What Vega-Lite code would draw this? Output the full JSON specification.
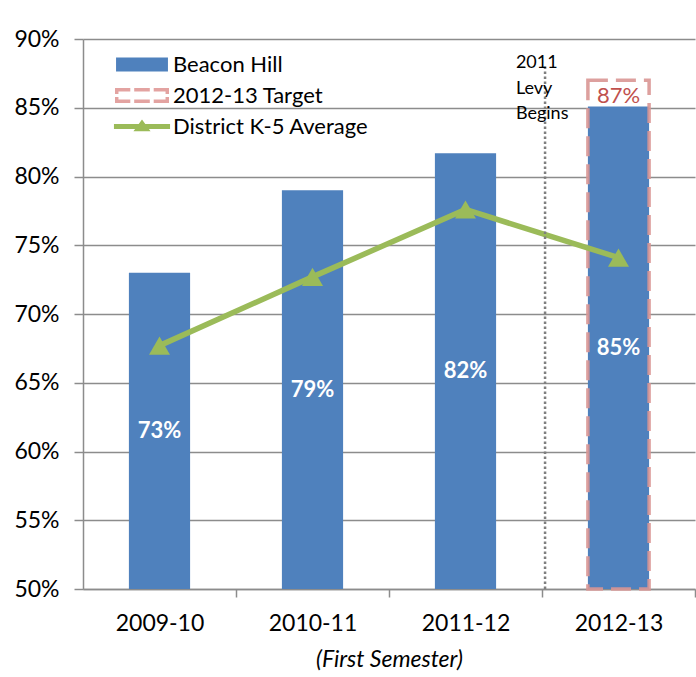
{
  "$schema": "https://vega.github.io/schema/vega-lite/v6.json",
  "width": 612,
  "height": 550,
  "autosize": "none",
  "padding": {"left": 83, "top": 39, "right": 1, "bottom": 88},
  "background": "white",
  "config": {"font": "Lato", "view": {"stroke": null}},
  "datasets": {
    "bars": [
      {"year": "2009-10", "value": 73.0, "label": "73%"},
      {"year": "2010-11", "value": 79.0, "label": "79%"},
      {"year": "2011-12", "value": 81.7, "label": "82%"},
      {"year": "2012-13", "value": 85.1, "label": "85%"}
    ],
    "avg": [
      {"year": "2009-10", "value": 67.7},
      {"year": "2010-11", "value": 72.7},
      {"year": "2011-12", "value": 77.6},
      {"year": "2012-13", "value": 74.1}
    ],
    "target": [
      {"year": "2012-13", "value": 87, "label": "87%"}
    ],
    "note": [
      {"year": "2012-13", "value": 88, "note": "2011\nLevy\nBegins"}
    ]
  },
  "encoding": {
    "x": {
      "field": "year",
      "type": "nominal",
      "sort": null,
      "scale": {"domain": ["2009-10", "2010-11", "2011-12", "2012-13"], "paddingInner": 0.6, "paddingOuter": 0.3},
      "axis": {
        "title": "(First Semester)",
        "titleFontStyle": "italic",
        "titleFontWeight": "normal",
        "titleFontSize": 23,
        "titleColor": "black",
        "titlePadding": 13,
        "labelAngle": 0,
        "labelFontSize": 23,
        "labelColor": "black",
        "labelPadding": 15,
        "ticks": true,
        "tickOffset": 76.5,
        "labelOffset": -76.5,
        "tickSize": 8,
        "tickColor": "#8c8c8c",
        "tickWidth": 1.5,
        "domainColor": "#8c8c8c",
        "domainWidth": 1.5,
        "grid": false
      }
    },
    "y": {
      "field": "value",
      "type": "quantitative",
      "scale": {"domain": [50, 90], "nice": false, "zero": false},
      "axis": {
        "title": null,
        "values": [50, 55, 60, 65, 70, 75, 80, 85, 90],
        "labelExpr": "datum.value + '%'",
        "labelFontSize": 23,
        "labelColor": "black",
        "labelPadding": 15,
        "ticks": true,
        "tickSize": 9,
        "tickColor": "#8c8c8c",
        "tickWidth": 1.5,
        "domain": true,
        "domainColor": "#8c8c8c",
        "domainWidth": 1.5,
        "grid": true,
        "gridColor": "#8c8c8c",
        "gridWidth": 1.5
      }
    }
  },
  "layer": [
    {
      "data": {"name": "bars"},
      "mark": {"type": "bar"},
      "encoding": {
        "y2": {"datum": 50},
        "color": {
          "datum": "Beacon Hill",
          "scale": {
            "domain": ["Beacon Hill", "2012-13 Target", "District K-5 Average"],
            "range": ["#4f81bd", "#e3a3a1", "#9bbb59"]
          },
          "legend": {
            "title": null,
            "orient": "none",
            "legendX": 44,
            "legendY": 10.5,
            "padding": 0,
            "symbolSize": 900,
            "symbolStrokeWidth": 0,
            "symbolOpacity": 1,
            "labelFontSize": 22,
            "labelColor": "black",
            "labelOffset": 16,
            "labelLimit": 400,
            "rowPadding": 5,
            "encode": {
              "symbols": {
                "update": {
                  "shape": {
                    "signal": "datum.value === 'Beacon Hill' ? 'M-1.73,-0.47H1.73V0.47H-1.73Z' : (datum.value === '2012-13 Target' ? 'M-1.8,-0.5H-0.78V-0.27H-1.57V-0.1H-1.8Z M-0.52,-0.5H0.52V-0.27H-0.52Z M0.78,-0.5H1.8V-0.1H1.57V-0.27H0.78Z M-1.8,0.5H-0.78V0.27H-1.57V0.1H-1.8Z M-0.52,0.5H0.52V0.27H-0.52Z M0.78,0.5H1.8V0.1H1.57V0.27H0.78Z' : 'M-1.87,-0.17H1.87V0.17H-1.87Z M-0.57,0.31L0,-0.47L0.57,0.31Z')"
                  }
                }
              }
            }
          }
        }
      }
    },
    {
      "data": {"name": "target"},
      "mark": {"type": "bar", "filled": false, "fill": null, "stroke": "#d99694", "strokeWidth": 3.5, "strokeDash": [20, 8], "strokeOpacity": 0.9},
      "encoding": {
        "y2": {"datum": 50}
      }
    },
    {
      "data": {"name": "target"},
      "mark": {"type": "text", "color": "#c0504d", "fontSize": 22, "baseline": "alphabetic", "dy": 23},
      "encoding": {
        "text": {"field": "label"}
      }
    },
    {
      "data": {"name": "avg"},
      "mark": {"type": "line", "color": "#9bbb59", "strokeWidth": 5.5, "point": {"shape": "triangle-up", "size": 440, "filled": true, "color": "#9bbb59", "opacity": 1}},
      "encoding": {}
    },
    {
      "data": {"name": "bars"},
      "transform": [{"calculate": "(datum.value + 50) / 2", "as": "mid"}],
      "mark": {"type": "text", "color": "white", "fontSize": 22, "fontWeight": "bold", "baseline": "middle"},
      "encoding": {
        "y": {"field": "mid", "type": "quantitative"},
        "text": {"field": "label"}
      }
    },
    {
      "data": {"name": "note"},
      "mark": {"type": "rule", "color": "#7f7f7f", "strokeWidth": 2.5, "strokeDash": [2.5, 2.5]},
      "encoding": {
        "x": {"field": "year", "type": "nominal", "bandPosition": -0.7},
        "y2": {"datum": 50}
      }
    },
    {
      "data": {"name": "note"},
      "mark": {"type": "text", "align": "left", "baseline": "alphabetic", "fontSize": 18, "lineHeight": 25.5, "lineBreak": "\n", "color": "black", "dx": -72, "dy": 1.5},
      "encoding": {
        "x": {"field": "year", "type": "nominal", "bandPosition": 0},
        "text": {"field": "note"}
      }
    }
  ]
}
